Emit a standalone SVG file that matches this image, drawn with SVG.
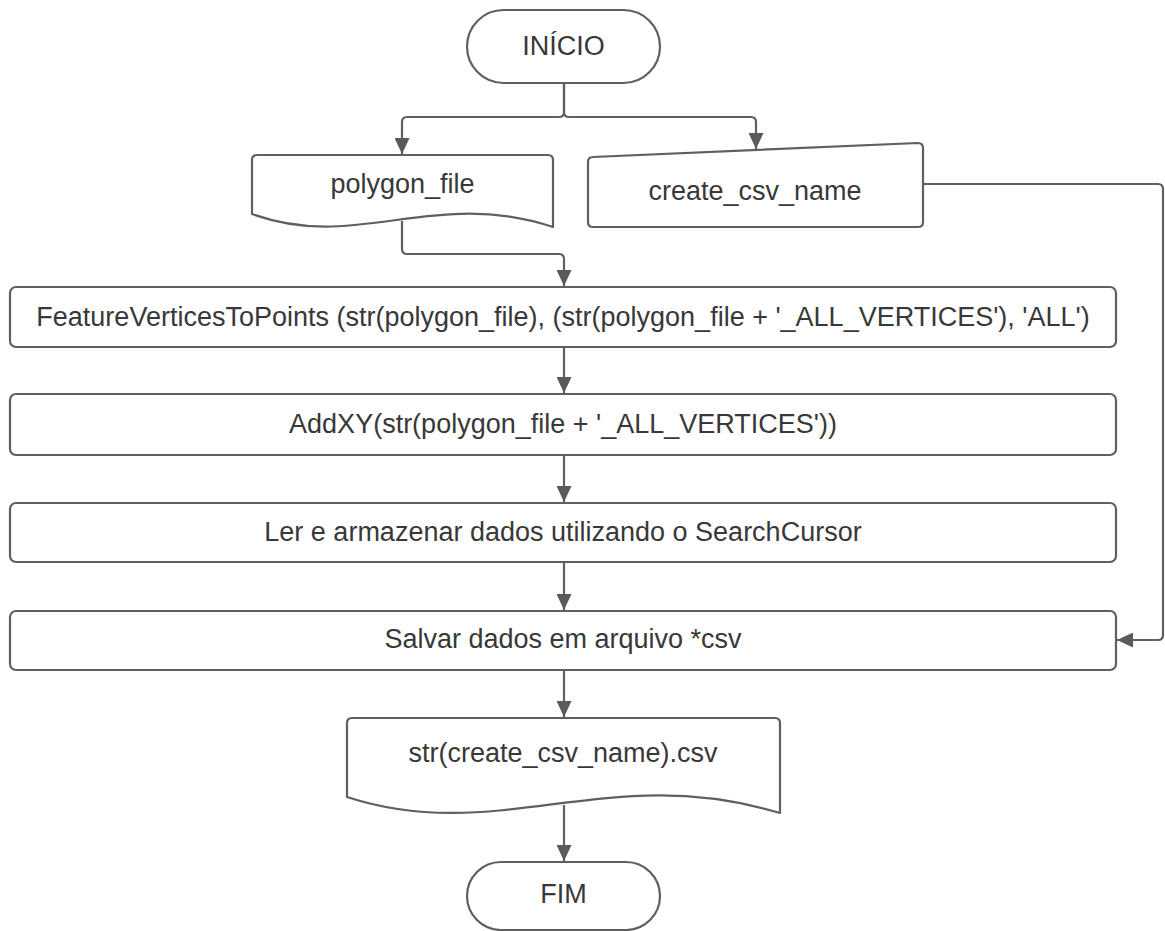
<svg xmlns="http://www.w3.org/2000/svg" width="1165" height="931" viewBox="0 0 1165 931">
<defs>
<style>
.shape{fill:#ffffff;stroke:#5f5f5f;stroke-width:2.2;stroke-linejoin:round}
.lbl{font-family:"Liberation Sans",Arial,sans-serif;font-size:27px;fill:#383838;text-anchor:middle}
.edge{fill:none;stroke:#5f5f5f;stroke-width:2.2}
</style>
<marker id="arr" markerUnits="userSpaceOnUse" markerWidth="16" markerHeight="15" refX="16" refY="7.5" orient="auto">
<path d="M0,0 L16,7.5 L0,15 Z" fill="#5a5a5a"/>
</marker>
</defs>
<rect width="1165" height="931" fill="#ffffff"/>

<g id="connectors">
<path class="edge" d="M564,83 V112 Q564,117 559,117 H407 Q402,117 402,122 V154" marker-end="url(#arr)"/>
<path class="edge" d="M564,83 V112 Q564,117 569,117 H751 Q756,117 756,122 V149" marker-end="url(#arr)"/>
<path class="edge" d="M402,221 V249 Q402,254 407,254 H559 Q564,254 564,259 V286" marker-end="url(#arr)"/>
<path class="edge" d="M923,184 H1158 Q1163,184 1163,189 V635 Q1163,640 1158,640 H1117" marker-end="url(#arr)"/>
<path class="edge" d="M564,347 V393" marker-end="url(#arr)"/>
<path class="edge" d="M564,455 V502" marker-end="url(#arr)"/>
<path class="edge" d="M564,562 V610" marker-end="url(#arr)"/>
<path class="edge" d="M564,670 V717" marker-end="url(#arr)"/>
<path class="edge" d="M564,805 V861" marker-end="url(#arr)"/>
</g>

<g id="inicio">
<rect class="shape" x="467" y="10" width="193" height="73" rx="36.5"/>
<text class="lbl" x="563.5" y="55">INÍCIO</text>
</g>

<g id="polygon_file">
<path class="shape" d="M252,160 Q252,155 257,155 H548 Q553,155 553,160 V227 C432.6,187.4 357.4,252.2 252,214 Z"/>
<text class="lbl" x="402.5" y="193">polygon_file</text>
</g>

<g id="create_csv_name">
<path class="shape" d="M588,162 Q588,157 593,157 L918,143 Q923,143 923,148 V222 Q923,227 918,227 H593 Q588,227 588,222 Z"/>
<text class="lbl" x="755" y="200">create_csv_name</text>
</g>

<g id="feature_vertices">
<rect class="shape" x="10" y="287" width="1106" height="60" rx="6"/>
<text class="lbl" x="563" y="326">FeatureVerticesToPoints (str(polygon_file), (str(polygon_file + '_ALL_VERTICES'), 'ALL')</text>
</g>

<g id="addxy">
<rect class="shape" x="10" y="394" width="1106" height="61" rx="6"/>
<text class="lbl" x="563" y="433">AddXY(str(polygon_file + '_ALL_VERTICES'))</text>
</g>

<g id="ler">
<rect class="shape" x="10" y="503" width="1106" height="59" rx="6"/>
<text class="lbl" x="563" y="541">Ler e armazenar dados utilizando o SearchCursor</text>
</g>

<g id="salvar">
<rect class="shape" x="10" y="611" width="1106" height="59" rx="6"/>
<text class="lbl" x="563" y="648">Salvar dados em arquivo *csv</text>
</g>

<g id="csv_output">
<path class="shape" d="M347,723 Q347,718 352,718 H775 Q780,718 780,723 V813 C606.8,760.8 498.6,846.3 347,797 Z"/>
<text class="lbl" x="563" y="762">str(create_csv_name).csv</text>
</g>

<g id="fim">
<rect class="shape" x="467" y="862" width="193" height="68" rx="34"/>
<text class="lbl" x="563.5" y="903">FIM</text>
</g>
</svg>
